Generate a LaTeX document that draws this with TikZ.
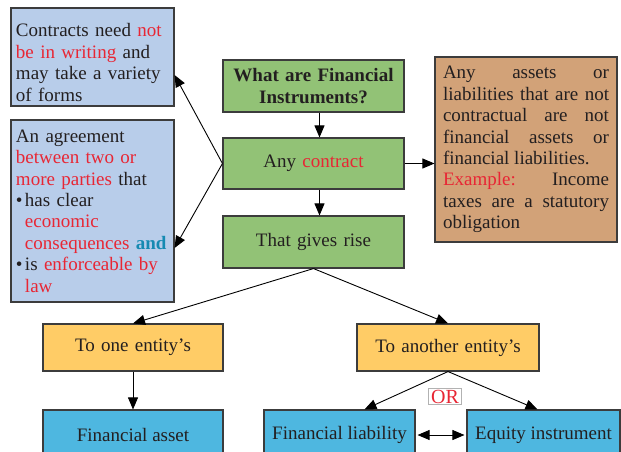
\documentclass[tikz,border=0pt]{standalone}
\usepackage{fontspec}
\setmainfont{Liberation Serif}
\usetikzlibrary{arrows.meta}
\definecolor{ink}{RGB}{35,31,32}
\definecolor{boxline}{RGB}{60,60,60}
\definecolor{noteblue}{RGB}{184,205,234}
\definecolor{stepgreen}{RGB}{146,194,118}
\definecolor{notebrown}{RGB}{210,162,120}
\definecolor{sideorange}{RGB}{255,204,102}
\definecolor{endcyan}{RGB}{78,183,224}
\definecolor{hired}{RGB}{232,38,52}
\definecolor{andteal}{RGB}{22,138,178}
\begin{document}
\begin{tikzpicture}[x=1pt,y=-1pt,line width=0.9pt,>={Triangle[length=12pt,width=10pt]}]
\tikzset{
  box/.style={draw=boxline,line width=1.1pt,inner ysep=0pt,text=ink,
    font=\fontsize{19}{21.4}\selectfont},
  note/.style={box,fill=noteblue,inner xsep=5pt,text width=153pt,
    minimum width=161pt,align=left},
  gbox/.style={box,fill=stepgreen,inner xsep=4pt,text width=173pt,
    minimum width=181pt,minimum height=52pt,align=center},
  obox/.style={box,fill=sideorange,inner xsep=4pt,text width=172pt,
    minimum width=180pt,minimum height=47pt,align=center},
  cbox/.style={box,fill=endcyan,inner xsep=1pt,minimum height=50pt,align=center},
  link/.style={draw=black,line width=0.9pt,->}}
% red and bullet helpers
\newcommand{\hl}[1]{\textcolor{hired}{#1}}
\newcommand{\bul}{\makebox[9pt][l]{•}}
\useasboundingbox (0,0) rectangle (621,452);
\clip (0,0) rectangle (621,452);
% ---------- left notes ----------
\node[note,minimum height=98pt] (need) at (92.5,57) {\rule{0pt}{24pt}Contracts need \hl{not}\\
  \hl{be in writing} and\\ may take a variety\\ of forms};
\node[note,minimum height=182pt] (agree) at (92.5,211) {An agreement\\
  \hl{between two or}\\ \hl{more parties} that\\ \bul has clear\\
  \hspace*{9pt}\hl{economic}\\
  \hspace*{9pt}\hl{consequences} \textcolor{andteal}{\textbf{and}}\\
  \bul is \hl{enforceable by}\\ \hspace*{9pt}\hl{law}};
% ---------- centre column ----------
\node[gbox] (what) at (313.5,86) {\textbf{What are Financial}\\ \textbf{Instruments?}};
\node[gbox,minimum height=51pt] (any) at (313.5,163.5) {Any \hl{contract}};
\node[gbox] (rise) at (313.5,242) {That gives rise};
% ---------- right note ----------
\node[box,fill=notebrown,inner xsep=8pt,text width=166pt,minimum width=182pt,
  minimum height=185pt,align=justify] (nonfin) at (526,149.5)
  {Any assets or\linebreak liabilities that are not\linebreak contractual are not\linebreak
   financial assets or\linebreak financial liabilities.\\ \hl{Example:} Income\linebreak
   taxes are a statutory\linebreak obligation};
% ---------- entities ----------
\node[obox] (one) at (133,347.5) {To one entity’s};
\node[obox,text width=174pt,minimum width=182pt] (another) at (448,347.5) {To another entity’s};
\node[cbox,minimum width=180pt] (asset) at (133,435) {Financial asset};
\node[cbox,minimum width=151pt] (liab) at (339.5,435) {Financial liability};
\node[cbox,minimum width=153pt] (equity) at (543.5,435) {Equity instrument};
\node[draw=gray!60,line width=0.6pt,fill=white,text=hired,inner xsep=2.5pt,inner ysep=1.5pt,
  font=\fontsize{20}{22}\selectfont] (or) at (445,396.5) {OR};
% ---------- connectors ----------
\draw[link] ([xshift=6pt]what.south) -- ([xshift=6pt]any.north);
\draw[link] ([xshift=6pt]any.south) -- ([xshift=6pt]rise.north);
\draw[link] (any.east) -- (any.east -| nonfin.west);
\draw[link] (any.west) -- ([yshift=-18pt]need.east);
\draw[link] (any.west) -- ([yshift=-37pt]agree.east);
\draw[link] (rise.south) -- (one.north);
\draw[link] (rise.south) -- (another.north);
\draw[link] (one.south) -- (asset.north);
\draw[link] (another.south) -- ([xshift=25pt]liab.north);
\draw[link] (another.south) -- ([xshift=-6pt]equity.north);
\draw[link,<->,shorten <=2pt,shorten >=2pt] (liab.east) -- (equity.west);
\end{tikzpicture}
\end{document}
